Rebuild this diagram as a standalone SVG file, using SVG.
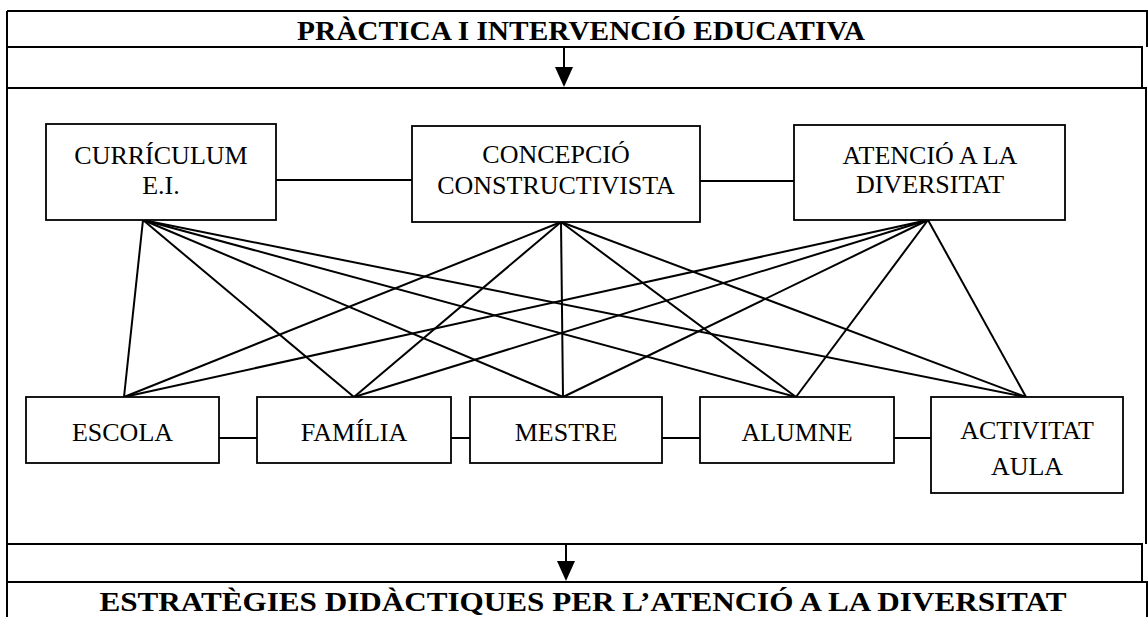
<svg xmlns="http://www.w3.org/2000/svg" width="1148" height="617" viewBox="0 0 1148 617">
<style>
.frame{fill:none;stroke:#000;stroke-width:2}
.box{fill:#fff;stroke:#000;stroke-width:1.8}
.lbl{font-family:"Liberation Serif","Times New Roman",serif;font-size:26px;fill:#000;text-anchor:middle}
.ttl{font-family:"Liberation Serif","Times New Roman",serif;font-size:27px;font-weight:bold;fill:#000;text-anchor:middle}
.con{stroke:#000;stroke-width:2;fill:none}
</style>
<rect width="1148" height="617" fill="#fff"/>
<g id="frame">
<path class="frame" d="M7,11 H1147 V47 M7,47 H1142 V88 M7,88 H1146 V544 M7,544 H1142 V582 M7,582 H1147 V617 M7,11 V617"/>
</g>
<g id="title-top">
<text class="ttl" x="581" y="40" textLength="568" lengthAdjust="spacingAndGlyphs">PRÀCTICA I INTERVENCIÓ EDUCATIVA</text>
</g>
<g id="title-bottom">
<text class="ttl" x="583" y="611" textLength="967" lengthAdjust="spacingAndGlyphs">ESTRATÈGIES DIDÀCTIQUES PER L’ATENCIÓ A LA DIVERSITAT</text>
</g>
<g id="connectors">
<line class="con" x1="564" y1="48" x2="564" y2="70"/>
<path d="M555,67 L573,67 L564,87 Z" fill="#000"/>
<line class="con" x1="566" y1="545" x2="566" y2="564"/>
<path d="M557,561 L575,561 L566,581 Z" fill="#000"/>
<line class="con" x1="276" y1="180" x2="412" y2="180"/>
<line class="con" x1="700" y1="181" x2="794" y2="181"/>
<line class="con" x1="219" y1="438" x2="257" y2="438"/>
<line class="con" x1="451" y1="438" x2="470" y2="438"/>
<line class="con" x1="662" y1="438" x2="700" y2="438"/>
<line class="con" x1="894" y1="438" x2="931" y2="438"/>
<line class="con" x1="143" y1="220" x2="124" y2="397"/>
<line class="con" x1="143" y1="220" x2="354" y2="397"/>
<line class="con" x1="143" y1="220" x2="563" y2="397"/>
<line class="con" x1="143" y1="220" x2="796" y2="397"/>
<line class="con" x1="143" y1="220" x2="1026" y2="397"/>
<line class="con" x1="561" y1="222" x2="124" y2="397"/>
<line class="con" x1="561" y1="222" x2="354" y2="397"/>
<line class="con" x1="561" y1="222" x2="563" y2="397"/>
<line class="con" x1="561" y1="222" x2="796" y2="397"/>
<line class="con" x1="561" y1="222" x2="1026" y2="397"/>
<line class="con" x1="928" y1="220" x2="124" y2="397"/>
<line class="con" x1="928" y1="220" x2="354" y2="397"/>
<line class="con" x1="928" y1="220" x2="563" y2="397"/>
<line class="con" x1="928" y1="220" x2="796" y2="397"/>
<line class="con" x1="928" y1="220" x2="1026" y2="397"/>
</g>
<g id="curriculum">
<rect class="box" x="46" y="124" width="230" height="96"/>
<text class="lbl" x="161" y="164">CURRÍCULUM</text>
<text class="lbl" x="161" y="194">E.I.</text>
</g>
<g id="concepcio">
<rect class="box" x="412" y="126" width="288" height="96"/>
<text class="lbl" x="556" y="163">CONCEPCIÓ</text>
<text class="lbl" x="556" y="194">CONSTRUCTIVISTA</text>
</g>
<g id="atencio">
<rect class="box" x="794" y="125" width="271" height="95"/>
<text class="lbl" x="930" y="164">ATENCIÓ A LA</text>
<text class="lbl" x="930" y="193">DIVERSITAT</text>
</g>
<g id="escola">
<rect class="box" x="26" y="397" width="193" height="66"/>
<text class="lbl" x="122.5" y="441">ESCOLA</text>
</g>
<g id="familia">
<rect class="box" x="257" y="397" width="194" height="66"/>
<text class="lbl" x="354" y="441">FAMÍLIA</text>
</g>
<g id="mestre">
<rect class="box" x="470" y="397" width="192" height="66"/>
<text class="lbl" x="566" y="441">MESTRE</text>
</g>
<g id="alumne">
<rect class="box" x="700" y="397" width="194" height="66"/>
<text class="lbl" x="797" y="441">ALUMNE</text>
</g>
<g id="activitat">
<rect class="box" x="931" y="397" width="192" height="96"/>
<text class="lbl" x="1027" y="439">ACTIVITAT</text>
<text class="lbl" x="1027" y="475">AULA</text>
</g>
</svg>
